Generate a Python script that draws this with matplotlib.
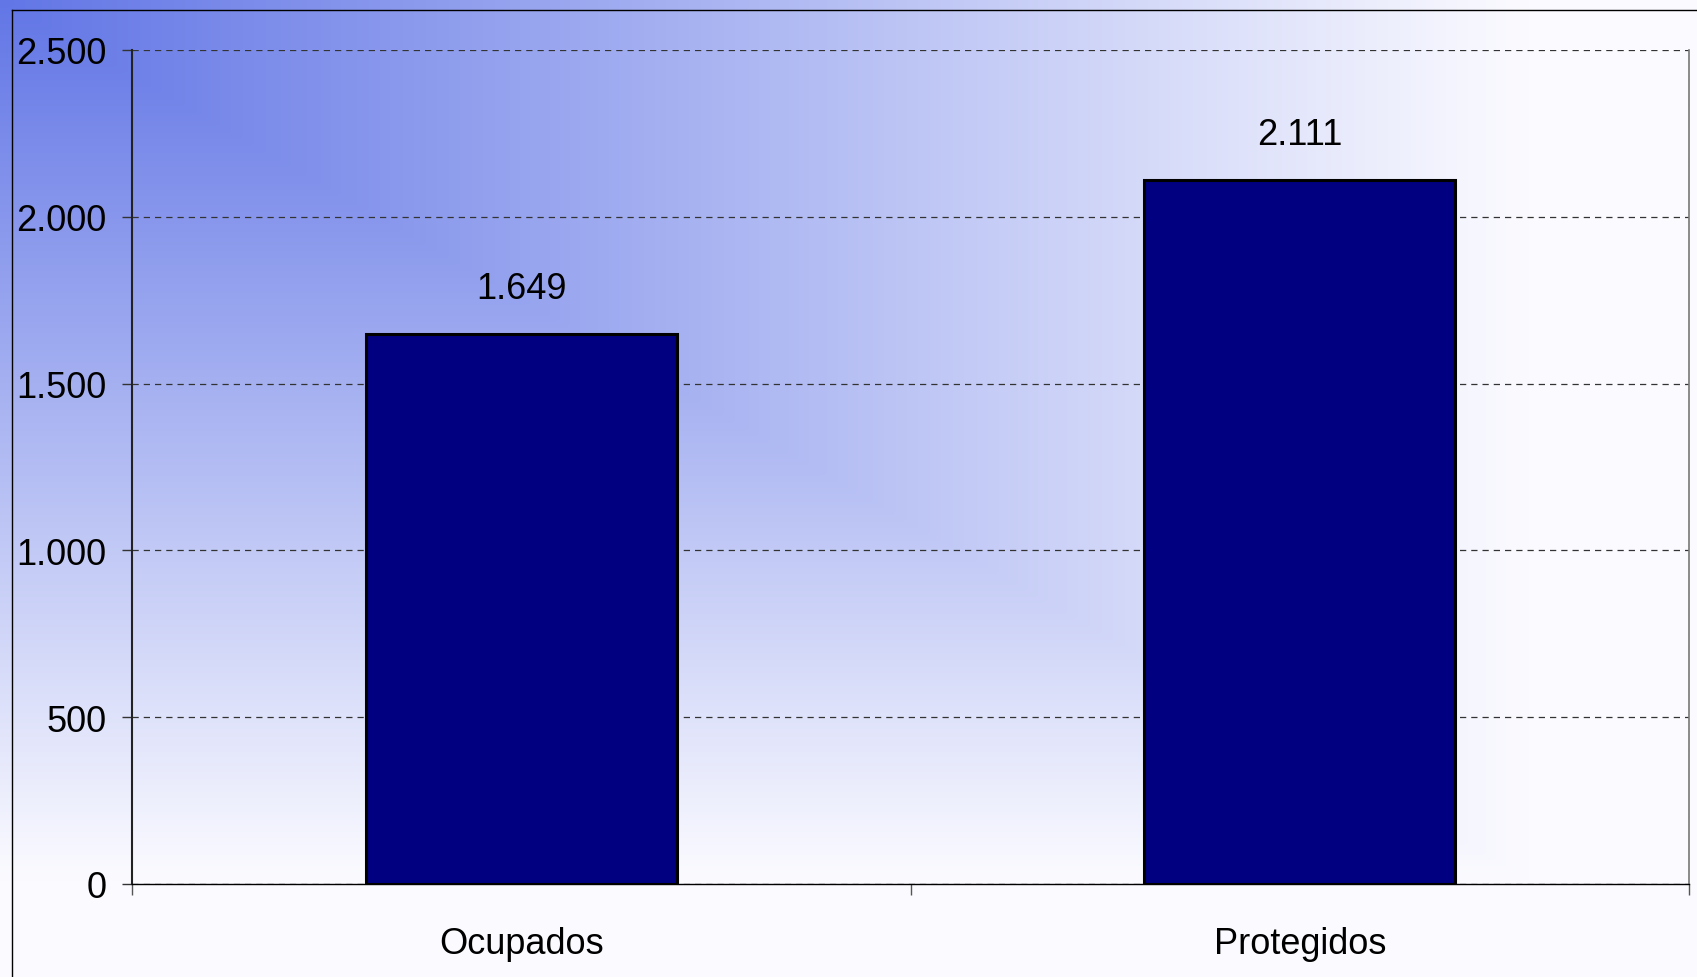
import numpy as np
import matplotlib
matplotlib.use("Agg")
import matplotlib.pyplot as plt
from matplotlib.ticker import FuncFormatter, FixedLocator

# ===============================
#  Data
# ===============================

categories = ["Ocupados", "Protegidos"]
values = [1649, 2111]
y_ticks = [0, 500, 1000, 1500, 2000, 2500]

W, H = 1697, 978
DPI = 100

plt.rcParams["font.family"] = ["Liberation Sans", "DejaVu Sans"]


def fmt_thousands(v, pos=None):
    return f"{int(v):,}".replace(",", ".")


fig = plt.figure(figsize=(W / DPI, H / DPI), dpi=DPI)

# background gradient from the top-left corner
bg = fig.add_axes([0, 0, 1, 1], zorder=0)
xx, yy = np.meshgrid(np.linspace(0, 1, 400), np.linspace(0, 1, 240))
t = np.clip(np.maximum(xx, yy) / 0.9, 0, 1)
c0 = np.array([98, 118, 230]) / 255
c1 = np.array([251, 251, 255]) / 255
img = c0[None, None, :] * (1 - t[..., None]) + c1[None, None, :] * t[..., None]
bg.imshow(img, aspect="auto", extent=[0, 1, 0, 1], origin="upper", interpolation="bilinear")
bg.set_xlim(0, 1)
bg.set_ylim(0, 1)
bg.axis("off")

# outer frame lines (left and top)
bg.plot([12 / W, 12 / W], [0, 1 - 11 / H], color="black", lw=1.0)
bg.plot([12 / W, 1], [1 - 11 / H, 1 - 11 / H], color="black", lw=1.0)

# ===============================
#  Main chart
# ===============================

left, right, top, bottom = 132, 1689, 51, 885
ax = fig.add_axes([left / W, 1 - bottom / H, (right - left) / W, (bottom - top) / H], zorder=1)
ax.patch.set_alpha(0)

x = np.arange(len(categories)) + 0.5
bars = ax.bar(x, values, width=0.4, color="#000080", edgecolor="black", linewidth=2.2, zorder=3)

ax.set_xlim(0, len(categories))
ax.set_ylim(0, 2500)
ax.set_yticks(y_ticks)
ax.yaxis.set_major_formatter(FuncFormatter(fmt_thousands))
ax.yaxis.grid(True, color="#333333", linestyle=(0, (5, 4)), linewidth=0.9, zorder=1)

ax.xaxis.set_major_locator(FixedLocator([0, 1, 2]))
ax.xaxis.set_major_formatter(FuncFormatter(lambda v, p: ""))
ax.xaxis.set_minor_locator(FixedLocator(list(x)))
ax.set_xticklabels(categories, minor=True)

ax.tick_params(axis="y", which="major", direction="out", length=7.2, width=1.0,
               color="#333333", labelsize=26, pad=11)
ax.tick_params(axis="x", which="major", direction="out", length=8, width=1.0, color="#555555")
ax.tick_params(axis="x", which="minor", length=0, labelsize=26, pad=30)

ax.spines["top"].set_visible(False)
ax.spines["left"].set_color("#222222")
ax.spines["left"].set_linewidth(1.5)
ax.spines["bottom"].set_color("black")
ax.spines["bottom"].set_linewidth(1.0)
ax.spines["right"].set_color("#777777")
ax.spines["right"].set_linewidth(1.2)

for b, v in zip(bars, values):
    ax.annotate(fmt_thousands(v), (b.get_x() + b.get_width() / 2, v),
                xytext=(0, 26), textcoords="offset points",
                ha="center", va="baseline", fontsize=26, color="black")

fig.savefig("out.png", dpi=DPI)
plt.close(fig)
